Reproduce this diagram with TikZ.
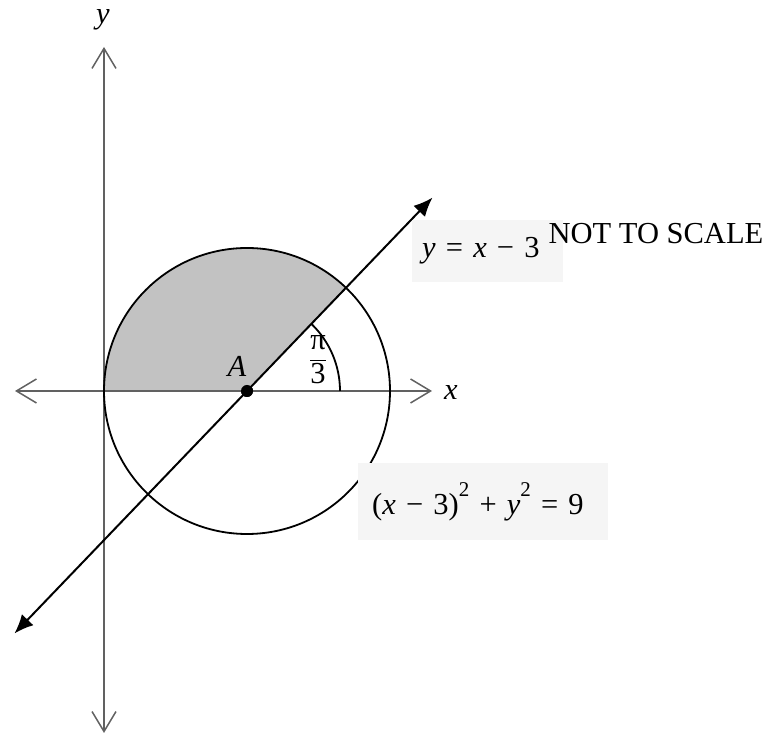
\documentclass[tikz,border=0pt]{standalone}
\usepackage{fontspec}
\setmainfont{Liberation Serif}
\usetikzlibrary{arrows.meta,calc}

\newcommand{\sq}{\raisebox{0.6em}{\fontsize{21}{22}\selectfont 2}}

\begin{document}
\begin{tikzpicture}[x=1pt,y=1pt,
  axis/.style={draw=black!62, line width=1.5pt, {Straight Barb[length=20pt,width=24pt]}-{Straight Barb[length=20pt,width=24pt]}},
  curve/.style={draw=black, line width=1.8pt},
  arrowline/.style={draw=black, line width=2pt, {Latex[length=19pt,width=16pt]}-{Latex[length=19pt,width=16pt]}},
  shade/.style={fill=black!24},
  dot/.style={circle, fill=black, minimum size=12pt, inner sep=0pt},
  lbl/.style={font=\fontsize{30.5}{34}\selectfont, inner sep=1pt},
  eqbox/.style={fill=black!4, font=\fontsize{30.5}{34}\selectfont, align=left, anchor=west}
]
\useasboundingbox (0,0) rectangle (772,736);

% centre of the circle
\node[dot] (A) at (247,345) {};
\coordinate (lo) at ($(A.center)+(226.2:336)$);
\coordinate (hi) at ($(A.center)+(46.2:268)$);

% shaded part of the disc
\fill[shade] (A.center) -- ++(180:143) arc[start angle=180, end angle=46.2, radius=143] -- cycle;

% axes
\coordinate (ybot) at (104,3);
\coordinate (ytop) at (104,689);
\coordinate (xleft) at (15,345);
\coordinate (xright) at (432,345);
\draw[axis] (ybot) -- (ytop);
\draw[axis] (xleft) -- (xright);
\node[lbl] (ylbl) at (103,716) {\textit{y}};
\node[lbl] (xlbl) at (451,343) {\textit{x}};

% circle and angle
\draw[curve] (A.center) circle (143);
\draw[curve] (A.center) ++(0:93) arc[start angle=0, end angle=46.2, radius=93];

% line y = x - 3
\draw[arrowline] (lo) -- (hi);
\node[dot] at (A) {};

% labels
\node[lbl] (Albl) at (237,370) {\textit{A}};
\node[lbl] (ang) at (318,376) {$\displaystyle\frac{\mbox{π}}{\mbox{3}}$};
\node[eqbox, minimum height=62pt, text width=131pt, inner xsep=10pt] (lineq) at (412,485)
  {\textit{y} = \textit{x} − 3};
\node[lbl] (scale) at (656,502) {NOT TO SCALE};
\node[eqbox, minimum height=77pt, text width=222pt, inner xsep=14pt] (circeq) at (358,234)
  {\raisebox{-4pt}{(\textit{x} − 3)\sq{} + \textit{y}\sq{} = 9}};

\end{tikzpicture}
\end{document}
